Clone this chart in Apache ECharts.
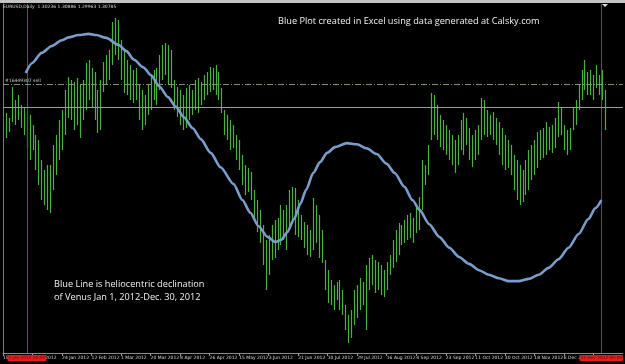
<!DOCTYPE html>
<html>
<head>
<meta charset="utf-8">
<script src="https://cdn.jsdelivr.net/npm/echarts@6/dist/echarts.min.js"></script>
<style>
  html, body { margin: 0; padding: 0; background: #000; }
  #chart { width: 625px; height: 364px; }
</style>
</head>
<body>
<div id="chart"></div>
<script>
// EURUSD daily bars (high / low), bar index starts at 1
const barHigh = [
  1.3075, 1.3053, 1.3189, 1.3132, 1.3154, 1.3110, 1.3097, 1.3079, 1.3066, 1.3022,
  1.2978, 1.2956, 1.2868, 1.2824, 1.2846, 1.2846, 1.2934, 1.2978, 1.3044, 1.3088,
  1.3176, 1.3233, 1.3220, 1.3211, 1.3229, 1.3198, 1.3220, 1.3295, 1.3308, 1.3273,
  1.3255, 1.3176, 1.3220, 1.3299, 1.3330, 1.3352, 1.3475, 1.3493, 1.3484, 1.3396,
  1.3352, 1.3308, 1.3286, 1.3264, 1.3273, 1.3198, 1.3176, 1.3154, 1.3198, 1.3242,
  1.3264, 1.3273, 1.3330, 1.3374, 1.3383, 1.3374, 1.3352, 1.3220, 1.3189, 1.3176,
  1.3154, 1.3185, 1.3198, 1.3176, 1.3220, 1.3229, 1.3211, 1.3242, 1.3255, 1.3277,
  1.3273, 1.3286, 1.3255, 1.3185, 1.3088, 1.3066, 1.3044, 1.3022, 1.2978, 1.2956,
  1.2890, 1.2846, 1.2833, 1.2815, 1.2736, 1.2692, 1.2648, 1.2582, 1.2516, 1.2538,
  1.2582, 1.2604, 1.2613, 1.2670, 1.2648, 1.2670, 1.2736, 1.2749, 1.2745, 1.2692,
  1.2626, 1.2595, 1.2582, 1.2560, 1.2701, 1.2670, 1.2626, 1.2560, 1.2428, 1.2384,
  1.2340, 1.2318, 1.2331, 1.2340, 1.2296, 1.2230, 1.2186, 1.2208, 1.2296, 1.2318,
  1.2349, 1.2331, 1.2406, 1.2437, 1.2450, 1.2428, 1.2419, 1.2406, 1.2384, 1.2419,
  1.2450, 1.2516, 1.2560, 1.2591, 1.2582, 1.2604, 1.2626, 1.2635, 1.2613, 1.2661,
  1.2705, 1.2868, 1.2846, 1.2934, 1.3163, 1.3154, 1.3110, 1.3066, 1.3044, 1.3022,
  1.3000, 1.2978, 1.2956, 1.2978, 1.3044, 1.3075, 1.3053, 1.3009, 1.2978, 1.3000,
  1.3022, 1.3141, 1.3132, 1.3088, 1.3066, 1.3079, 1.3053, 1.3035, 1.3009, 1.2978,
  1.2956, 1.2934, 1.2890, 1.2868, 1.2846, 1.2824, 1.2868, 1.2912, 1.2934, 1.2956,
  1.2991, 1.3000, 1.3009, 1.3035, 1.3013, 1.3022, 1.3053, 1.3123, 1.3097, 1.3022,
  1.3000, 1.3009, 1.3097, 1.3132, 1.3198, 1.3264, 1.3308, 1.3255, 1.3264, 1.3242,
  1.3286, 1.3242, 1.3264, 1.3176
]
const barLow = [
  1.2965, 1.2991, 1.3035, 1.3022, 1.3044, 1.3009, 1.2978, 1.2921, 1.2868, 1.2912,
  1.2824, 1.2758, 1.2692, 1.2670, 1.2648, 1.2635, 1.2736, 1.2802, 1.2868, 1.2912,
  1.2978, 1.3053, 1.3044, 1.3000, 1.3022, 1.2965, 1.3044, 1.3088, 1.3132, 1.3097,
  1.3044, 1.2987, 1.3000, 1.3167, 1.3198, 1.3220, 1.3286, 1.3330, 1.3308, 1.3220,
  1.3163, 1.3154, 1.3132, 1.3119, 1.3132, 1.3044, 1.3000, 1.3022, 1.3066, 1.3088,
  1.3132, 1.3110, 1.3176, 1.3220, 1.3242, 1.3198, 1.3185, 1.3088, 1.3057, 1.3022,
  1.3000, 1.3009, 1.3044, 1.3066, 1.3088, 1.3075, 1.3110, 1.3132, 1.3154, 1.3167,
  1.3176, 1.3154, 1.3132, 1.3075, 1.2978, 1.2956, 1.2912, 1.2921, 1.2868, 1.2824,
  1.2758, 1.2714, 1.2727, 1.2692, 1.2604, 1.2551, 1.2503, 1.2406, 1.2296, 1.2362,
  1.2428, 1.2437, 1.2472, 1.2494, 1.2516, 1.2472, 1.2560, 1.2604, 1.2538, 1.2529,
  1.2516, 1.2481, 1.2450, 1.2441, 1.2472, 1.2503, 1.2437, 1.2415, 1.2296, 1.2239,
  1.2230, 1.2208, 1.2252, 1.2208, 1.2186, 1.2120, 1.2063, 1.2085, 1.2142, 1.2173,
  1.2208, 1.2230, 1.2120, 1.2296, 1.2318, 1.2283, 1.2296, 1.2274, 1.2265, 1.2296,
  1.2362, 1.2393, 1.2419, 1.2450, 1.2494, 1.2503, 1.2516, 1.2525, 1.2503, 1.2547,
  1.2560, 1.2648, 1.2758, 1.2802, 1.2956, 1.2978, 1.2956, 1.2925, 1.2912, 1.2890,
  1.2868, 1.2846, 1.2811, 1.2846, 1.2912, 1.2890, 1.2934, 1.2868, 1.2837, 1.2868,
  1.2890, 1.2956, 1.2978, 1.2969, 1.2978, 1.2956, 1.2934, 1.2890, 1.2846, 1.2824,
  1.2833, 1.2802, 1.2736, 1.2692, 1.2670, 1.2683, 1.2714, 1.2736, 1.2780, 1.2802,
  1.2833, 1.2868, 1.2877, 1.2890, 1.2912, 1.2899, 1.2921, 1.2969, 1.2978, 1.2912,
  1.2890, 1.2912, 1.3000, 1.3022, 1.3088, 1.3132, 1.3176, 1.3154, 1.3154, 1.3132,
  1.3185, 1.3154, 1.3132, 1.3000
]

// time scale labels, one every 10 bars
const tickLabels = [
  '15 Dec 2011', '5 Jan 2012', '24 Jan 2012', '12 Feb 2012', '1 Mar 2012', '20 Mar 2012',
  '8 Apr 2012', '26 Apr 2012', '15 May 2012', '3 Jun 2012', '21 Jun 2012', '10 Jul 2012',
  '29 Jul 2012', '16 Aug 2012', '4 Sep 2012', '23 Sep 2012', '11 Oct 2012', '30 Oct 2012',
  '18 Nov 2012', '6 Dec 2012', '25 Dec 2012'
]

// Venus heliocentric declination (deg), x = position in bars
const venusX = [
  7.7, 9.8, 13.1, 16.5, 19.9, 22.2, 25.6, 29.0, 31.6, 35.0, 39.1, 41.8, 44.4, 47.5, 50.2,
  52.9, 55.9, 58.6, 61.3, 64.3, 67.0, 70.4, 73.7, 78.1, 81.1, 83.8, 86.5, 89.6, 92.3, 94.3,
  96.3, 98.6, 100.7, 102.7, 105.1, 107.4, 109.8, 112.5, 116.5, 119.9, 123.2, 126.6, 130.0,
  132.7, 136.0, 138.7, 141.1, 144.4, 147.8, 151.2, 154.5, 157.9, 161.3, 164.6, 168.0, 171.4,
  174.7, 178.1, 181.5, 184.8, 188.2, 191.6, 195.0, 198.3, 200.7, 202.7
]
const venusDecl = [
  18.7, 20.4, 22.2, 23.4, 24.4, 24.9, 25.3, 25.5, 25.3, 24.8, 23.6, 22.5, 21.0, 19.7, 18.3,
  16.4, 14.5, 12.8, 11.0, 9.1, 7.2, 4.8, 2.3, -0.6, -3.4, -5.6, -7.9, -9.8, -10.7, -10.3,
  -9.0, -6.7, -4.1, -1.6, 1.3, 3.2, 4.8, 5.8, 6.5, 6.3, 5.6, 4.6, 2.9, 1.3, -1.1, -3.4, -5.1,
  -7.6, -9.8, -11.7, -13.3, -14.5, -15.6, -16.4, -17.0, -17.5, -17.5, -17.1, -16.4, -15.2,
  -13.7, -11.7, -9.3, -6.7, -4.8, -3.4
]

// vertical separators (bar position) and their time labels
const separatorX = [8.1, 202.7]
const separatorLabels = ['2 Jan 2012 00:00', '31 Dec 2012 00:00']

const quoteHeader = 'EURUSD,Daily  1.30236 1.30886 1.29963 1.30785'
const bidPrice = 1.30785
const sellPrice = 1.3213

const noteFont = "'Open Sans', 'Noto Sans', sans-serif"
const tinyFont = "'DejaVu Sans', sans-serif"

const chart = echarts.init(document.getElementById('chart'))

const bars = barHigh.map((h, k) => [k + 1, h, barLow[k]])
const venus = venusX.map((x, k) => [x, venusDecl[k]])

const sepMarks = separatorX.map((x, k) => ({
  xAxis: x,
  lineStyle: { color: '#b82a20', type: 'solid', width: 1 },
  label: {
    show: true,
    position: 'start',
    distance: 2,
    formatter: separatorLabels[k],
    color: '#7a0000',
    backgroundColor: '#e0201c',
    padding: [1, 1],
    fontSize: 4.3,
    fontFamily: tinyFont
  }
}))

const option = {
  backgroundColor: '#000',
  animation: false,
  title: [
    {
      text: quoteHeader,
      left: 3, top: 4, padding: 0,
      textStyle: { color: '#d8d8d8', fontSize: 4.5, fontWeight: 'normal', fontFamily: tinyFont }
    },
    {
      text: 'Blue Plot created in Excel using data generated at Calsky.com',
      left: 278, top: 17, padding: 0,
      textStyle: { color: '#f2f2f2', fontSize: 9.2, fontWeight: 'normal', fontFamily: noteFont }
    },
    {
      text: 'Blue Line is heliocentric declination\nof Venus Jan 1, 2012-Dec. 30, 2012',
      left: 54, top: 278, padding: 0,
      textStyle: { color: '#f2f2f2', fontSize: 9.2, lineHeight: 13, fontWeight: 'normal', fontFamily: noteFont }
    }
  ],
  graphic: [
    { type: 'rect', left: 0, top: 0, shape: { width: 625, height: 3 }, style: { fill: '#c4c4c4' } },
    { type: 'polygon', shape: { points: [[602, 4], [608, 4], [605, 7]] }, style: { fill: '#dddddd' } }
  ],
  grid: { left: 1, right: 0, top: 4, bottom: 11 },
  xAxis: {
    type: 'value',
    min: 0,
    max: 210,
    interval: 10,
    axisLine: { show: true, onZero: false, lineStyle: { color: '#8a8a8a', width: 1 } },
    axisTick: { show: true, length: 3, lineStyle: { color: '#9a9a9a' } },
    splitLine: { show: false },
    axisLabel: {
      show: true,
      showMaxLabel: false,
      align: 'left',
      margin: 2,
      color: '#d8d8d8',
      fontSize: 4.5,
      fontFamily: tinyFont,
      formatter: (v) => tickLabels[Math.round(v / 10)] || ''
    }
  },
  yAxis: [
    {
      type: 'value',
      min: 1.20188,
      max: 1.35544,
      axisLine: { show: true, onZero: false, lineStyle: { color: '#7a7a7a' } },
      axisTick: { show: false },
      axisLabel: { show: false },
      splitLine: { show: false }
    },
    {
      type: 'value',
      min: -30,
      max: 30.7,
      show: false,
      splitLine: { show: false }
    }
  ],
  series: [
    {
      name: 'EURUSD',
      type: 'custom',
      yAxisIndex: 0,
      data: bars,
      encode: { x: 0, y: [1, 2] },
      renderItem: (params, api) => {
        const x = api.value(0)
        const top = api.coord([x, api.value(1)])
        const bot = api.coord([x, api.value(2)])
        const px = Math.round(top[0]) + 0.5
        return {
          type: 'line',
          shape: { x1: px, y1: top[1], x2: px, y2: bot[1] },
          style: { stroke: '#4cb040', lineWidth: 1.2 }
        }
      },
      markLine: {
        silent: true,
        symbol: 'none',
        animation: false,
        data: [
          ...sepMarks,
          {
            yAxis: sellPrice,
            lineStyle: { color: '#7d9868', type: [6, 2, 1, 2], width: 1 },
            label: {
              show: true,
              position: 'insideStartTop',
              distance: [2, 1],
              formatter: '#16449307 sell',
              color: '#d0d0d0',
              fontSize: 4.5,
              fontFamily: tinyFont
            }
          },
          {
            yAxis: bidPrice,
            lineStyle: { color: '#9c9c9c', type: 'solid', width: 1 },
            label: { show: false }
          }
        ]
      }
    },
    {
      name: 'Venus',
      type: 'line',
      yAxisIndex: 1,
      data: venus,
      smooth: 0.25,
      smoothMonotone: 'x',
      symbol: 'none',
      z: 5,
      lineStyle: { color: '#7b9dcb', width: 2.6 }
    }
  ]
}

chart.setOption(option)
</script>
</body>
</html>
